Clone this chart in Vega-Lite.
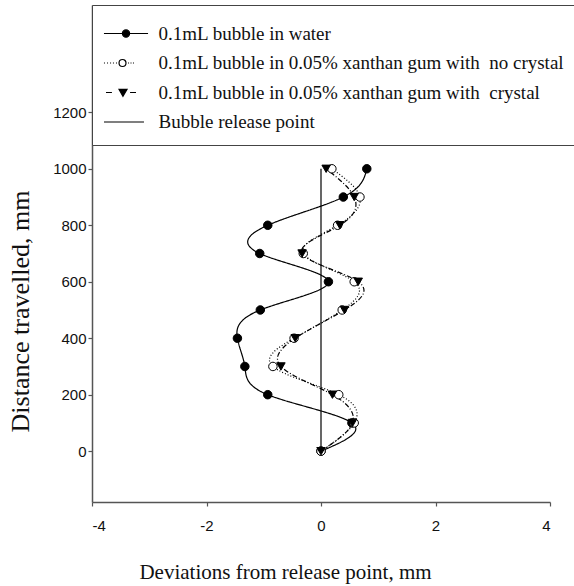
{
  "$schema": "https://vega.github.io/schema/vega-lite/v6.json",
  "width": 458,
  "height": 497,
  "autosize": {"type": "none"},
  "padding": {"left": 92, "top": 5, "right": 24, "bottom": 84},
  "background": "white",
  "config": {
    "view": {"stroke": null},
    "axis": {
      "grid": false,
      "domainColor": "#555",
      "domainWidth": 1.5,
      "tickColor": "#555",
      "tickWidth": 1.2,
      "tickSize": 4,
      "labelFont": "Liberation Sans",
      "labelFontSize": 15,
      "labelColor": "#111",
      "titleFont": "Liberation Serif",
      "titleFontWeight": "normal",
      "titleColor": "#111"
    },
    "legend": {
      "orient": "none",
      "legendX": 0,
      "legendY": 0,
      "title": null,
      "padding": 13,
      "strokeColor": "#444",
      "fillColor": "white",
      "symbolSize": 841,
      "symbolOffset": 5.5,
      "labelOffset": 17,
      "rowPadding": 3.5,
      "labelFont": "Liberation Serif",
      "labelFontSize": 19,
      "labelColor": "#111",
      "labelLimit": 1000,
      "symbolStrokeWidth": 1.2,
      "symbolOpacity": 1
    }
  },
  "data": {
    "values": [
      {"series": "0.1mL bubble in water", "dev": 0, "dist": 0},
      {"series": "0.1mL bubble in water", "dev": 0.54, "dist": 100},
      {"series": "0.1mL bubble in water", "dev": -0.93, "dist": 200},
      {"series": "0.1mL bubble in water", "dev": -1.33, "dist": 300},
      {"series": "0.1mL bubble in water", "dev": -1.46, "dist": 400},
      {"series": "0.1mL bubble in water", "dev": -1.06, "dist": 500},
      {"series": "0.1mL bubble in water", "dev": 0.13, "dist": 600},
      {"series": "0.1mL bubble in water", "dev": -1.07, "dist": 700},
      {"series": "0.1mL bubble in water", "dev": -0.93, "dist": 800},
      {"series": "0.1mL bubble in water", "dev": 0.39, "dist": 900},
      {"series": "0.1mL bubble in water", "dev": 0.8, "dist": 1000},
      {"series": "0.1mL bubble in 0.05% xanthan gum with  no crystal", "dev": 0, "dist": 0},
      {"series": "0.1mL bubble in 0.05% xanthan gum with  no crystal", "dev": 0.58, "dist": 100},
      {"series": "0.1mL bubble in 0.05% xanthan gum with  no crystal", "dev": 0.31, "dist": 200},
      {"series": "0.1mL bubble in 0.05% xanthan gum with  no crystal", "dev": -0.84, "dist": 300},
      {"series": "0.1mL bubble in 0.05% xanthan gum with  no crystal", "dev": -0.47, "dist": 400},
      {"series": "0.1mL bubble in 0.05% xanthan gum with  no crystal", "dev": 0.37, "dist": 500},
      {"series": "0.1mL bubble in 0.05% xanthan gum with  no crystal", "dev": 0.58, "dist": 600},
      {"series": "0.1mL bubble in 0.05% xanthan gum with  no crystal", "dev": -0.31, "dist": 700},
      {"series": "0.1mL bubble in 0.05% xanthan gum with  no crystal", "dev": 0.29, "dist": 800},
      {"series": "0.1mL bubble in 0.05% xanthan gum with  no crystal", "dev": 0.68, "dist": 900},
      {"series": "0.1mL bubble in 0.05% xanthan gum with  no crystal", "dev": 0.19, "dist": 1000},
      {"series": "0.1mL bubble in 0.05% xanthan gum with  crystal", "dev": 0, "dist": 0},
      {"series": "0.1mL bubble in 0.05% xanthan gum with  crystal", "dev": 0.55, "dist": 100},
      {"series": "0.1mL bubble in 0.05% xanthan gum with  crystal", "dev": 0.2, "dist": 200},
      {"series": "0.1mL bubble in 0.05% xanthan gum with  crystal", "dev": -0.7, "dist": 300},
      {"series": "0.1mL bubble in 0.05% xanthan gum with  crystal", "dev": -0.45, "dist": 400},
      {"series": "0.1mL bubble in 0.05% xanthan gum with  crystal", "dev": 0.41, "dist": 500},
      {"series": "0.1mL bubble in 0.05% xanthan gum with  crystal", "dev": 0.65, "dist": 600},
      {"series": "0.1mL bubble in 0.05% xanthan gum with  crystal", "dev": -0.33, "dist": 700},
      {"series": "0.1mL bubble in 0.05% xanthan gum with  crystal", "dev": 0.33, "dist": 800},
      {"series": "0.1mL bubble in 0.05% xanthan gum with  crystal", "dev": 0.58, "dist": 900},
      {"series": "0.1mL bubble in 0.05% xanthan gum with  crystal", "dev": 0.09, "dist": 1000},
      {"series": "Bubble release point", "dev": 0, "dist": 0},
      {"series": "Bubble release point", "dev": 0, "dist": 1000}
    ]
  },
  "encoding": {
    "x": {
      "field": "dev",
      "type": "quantitative",
      "scale": {"domain": [-4, 4], "nice": false, "zero": false},
      "axis": {
        "values": [-4, -2, 0, 2, 4],
        "labelExpr": "'' + datum.value",
        "title": "Deviations from release point, mm",
        "titleFontSize": 21,
        "titleX": 193,
        "titleY": 70,
        "titleBaseline": "middle",
        "labelPadding": 12
      }
    },
    "y": {
      "field": "dist",
      "type": "quantitative",
      "scale": {"domain": [-180, 1580], "nice": false, "zero": false},
      "axis": {
        "values": [0, 200, 400, 600, 800, 1000, 1200],
        "labelExpr": "'' + datum.value",
        "title": "Distance travelled, mm",
        "titleFontSize": 26,
        "titleX": -72,
        "titleY": 306,
        "titleBaseline": "middle",
        "labelPadding": 2
      }
    }
  },
  "layer": [
    {
      "data": {"values": [{"edge": "right frame"}]},
      "mark": {"type": "rule", "color": "#555", "strokeWidth": 1.5},
      "encoding": {
        "x": {"datum": 4},
        "y": {"datum": -180},
        "y2": {"datum": 1580}
      }
    },
    {
      "mark": {"type": "line", "interpolate": "natural", "color": "black", "strokeWidth": 1.2},
      "encoding": {
        "order": {"field": "dist", "type": "quantitative"},
        "strokeDash": {
          "field": "series",
          "type": "nominal",
          "scale": {
            "domain": [
              "0.1mL bubble in water",
              "0.1mL bubble in 0.05% xanthan gum with  no crystal",
              "0.1mL bubble in 0.05% xanthan gum with  crystal",
              "Bubble release point"
            ],
            "range": [[1, 0], [1, 2], [5, 2, 1, 2], [1, 0]]
          },
          "legend": null
        }
      }
    },
    {
      "transform": [{"filter": "datum.series !== 'Bubble release point'"}],
      "mark": {"type": "point", "size": 72, "stroke": "black", "strokeWidth": 1, "opacity": 1},
      "encoding": {
        "shape": {
          "field": "series",
          "type": "nominal",
          "scale": {
            "domain": [
              "0.1mL bubble in water",
              "0.1mL bubble in 0.05% xanthan gum with  no crystal",
              "0.1mL bubble in 0.05% xanthan gum with  crystal"
            ],
            "range": ["circle", "circle", "triangle-down"]
          },
          "legend": null
        },
        "fill": {
          "field": "series",
          "type": "nominal",
          "scale": {
            "domain": [
              "0.1mL bubble in water",
              "0.1mL bubble in 0.05% xanthan gum with  no crystal",
              "0.1mL bubble in 0.05% xanthan gum with  crystal"
            ],
            "range": ["black", "white", "black"]
          },
          "legend": null
        }
      }
    },
    {
      "mark": {"type": "point", "opacity": 0},
      "encoding": {
        "shape": {
          "field": "series",
          "type": "nominal",
          "scale": {
            "domain": [
              "0.1mL bubble in water",
              "0.1mL bubble in 0.05% xanthan gum with  no crystal",
              "0.1mL bubble in 0.05% xanthan gum with  crystal",
              "Bubble release point"
            ],
            "range": [
              "M-1.52,0L1.52,0M0.25,0A0.25,0.25,0,1,1,-0.25,0A0.25,0.25,0,1,1,0.25,0Z",
              "M-1.52,0L-1.45,0M-1.31,0L-1.24,0M-1.1,0L-1.03,0M-0.9,0L-0.83,0M-0.69,0L-0.62,0M0,0A0.24,0.24,0,1,1,-0.48,0A0.24,0.24,0,1,1,0,0ZM0.14,0L0.21,0M0.31,0L0.38,0M0.48,0L0.55,0",
              "M-1.38,0L-0.97,0M-0.48,-0.22L0.07,-0.22L-0.21,0.26ZM0.28,0L0.69,0",
              "M-1.52,0L1.24,0"
            ]
          },
          "legend": {
            "labelExpr": "replace(datum.label, '  ', '\u00a0 ')"
          }
        },
        "fill": {
          "field": "series",
          "type": "nominal",
          "scale": {
            "domain": [
              "0.1mL bubble in water",
              "0.1mL bubble in 0.05% xanthan gum with  no crystal",
              "0.1mL bubble in 0.05% xanthan gum with  crystal",
              "Bubble release point"
            ],
            "range": ["black", "white", "black", "black"]
          }
        },
        "stroke": {
          "field": "series",
          "type": "nominal",
          "scale": {
            "domain": [
              "0.1mL bubble in water",
              "0.1mL bubble in 0.05% xanthan gum with  no crystal",
              "0.1mL bubble in 0.05% xanthan gum with  crystal",
              "Bubble release point"
            ],
            "range": ["black", "black", "black", "black"]
          }
        }
      }
    }
  ],
  "resolve": {"scale": {"shape": "independent", "fill": "independent", "stroke": "independent", "strokeDash": "independent"}}
}
